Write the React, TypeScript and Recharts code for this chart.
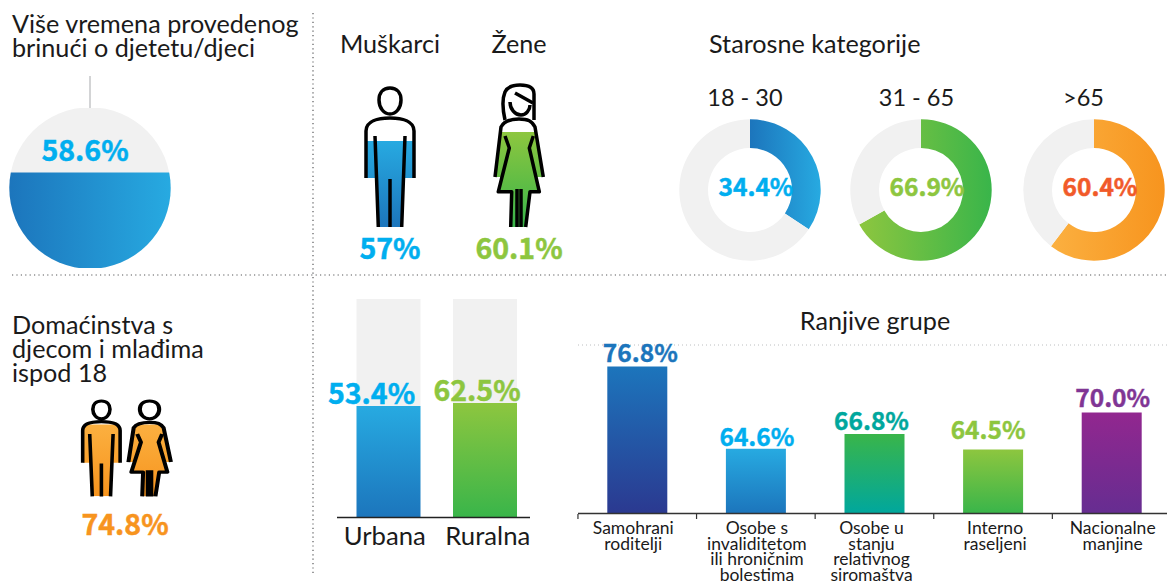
// Infographic: time spent caring for children, split by gender, age, household, area and vulnerable group.

import { Bar, BarChart, CartesianGrid, Cell, LabelList, Pie, PieChart, XAxis, YAxis } from "recharts";

const FONT = 'Lato, "Noto Sans", sans-serif';
const NUM_FONT = '"Noto Sans CJK SC", "Noto Sans", sans-serif';
const INK = "#1a1a1a";
const TRACK = "#f1f1f1";

// overall, gender, household
const overallValue = 58.6;
const genderValues = [57, 60.1];
const householdValue = 74.8;

// age groups
const ageGroups = ["18 - 30", "31 - 65", ">65"];
const ageValues = [34.4, 66.9, 60.4];

// urban / rural: labels as printed, heights as drawn on the track
const areaNames = ["Urbana", "Ruralna"];
const areaLabels = ["53.4%", "62.5%"];
const areaDrawn = [51, 52.4];

// vulnerable groups
const groupNames = [
  "Samohrani roditelji",
  "Osobe s invaliditetom ili hroničnim bolestima",
  "Osobe u stanju relativnog siromaštva",
  "Interno raseljeni",
  "Nacionalne manjine",
];
const groupLines = [
  ["Samohrani", "roditelji"],
  ["Osobe s", "invaliditetom", "ili hroničnim", "bolestima"],
  ["Osobe u", "stanju", "relativnog", "siromaštva"],
  ["Interno", "raseljeni"],
  ["Nacionalne", "manjine"],
];
const groupValues = [76.8, 64.6, 66.8, 64.5, 70.0];
const groupTicks = [55, 60, 65, 70, 75, 80];

const areaData = areaNames.map((name, i) => ({
  name,
  drawn: areaDrawn[i],
  rest: 100 - areaDrawn[i],
  label: areaLabels[i],
}));
const groupData = groupNames.map((name, i) => ({ name, value: groupValues[i] }));

const AREA_COLORS = ["#00aeef", "#8dc63f"];
const AREA_FILLS = ["url(#blueV)", "url(#greenV)"];
const AREA_NUDGE = [-17, -8];
const AGE_FILLS = ["url(#blueH)", "url(#greenH)", "url(#orangeH)"];
const AGE_COLORS = ["#00aeef", "#8dc63f", "#f15a29"];
const AGE_CENTERS = [750, 921, 1094];
const GROUP_COLORS = ["#1c75bc", "#00aeef", "#00a79d", "#8dc63f", "#803594"];
const GROUP_FILLS = ["url(#navyV)", "url(#blueV)", "url(#tealV)", "url(#greenV)", "url(#purpleV)"];
const GROUP_NUDGE: [number, number][] = [[3, -5], [1, -3], [-3, -4], [-5, -10], [1, -5]];
const GROUP_TICK_NUDGE = [-4, 1, -3, 2, 1];
const GROUP_BAND = 118.7;

const MAN_CLIP =
  "M6 109 L6 62 C6 52 18 49 30 49 C42 49 54 52 54 62 L54 109 L44 109 L41.7 158 L18.3 158 L16 109 Z";
const WOMAN_CLIP =
  "M11 56 C14 52 20 50 29 50 C38 50 42 52 45 56 L53.3 108 L45 108 L49.3 122.7 L40 122.7 L35.7 158 L20.7 158 L21.7 122.7 L8.3 122.7 L13 108 L5 108 Z";

function Gradient({ id, from, to, horizontal }: { id: string; from: string; to: string; horizontal?: boolean }) {
  return (
    <linearGradient id={id} x1="0" y1="0" x2={horizontal ? "1" : "0"} y2={horizontal ? "0" : "1"}>
      <stop offset="0" stopColor={from} />
      <stop offset="1" stopColor={to} />
    </linearGradient>
  );
}

function SharedDefs() {
  return (
    <svg width={0} height={0} style={{ position: "absolute" }}>
      <defs>
        <Gradient id="blueH" from="#1c75bc" to="#27aae1" horizontal />
        <Gradient id="greenH" from="#8dc63f" to="#39b54a" horizontal />
        <Gradient id="orangeH" from="#fbb040" to="#f7941e" horizontal />
        <Gradient id="blueV" from="#27aae1" to="#1c75bc" />
        <Gradient id="greenV" from="#8dc63f" to="#39b54a" />
        <Gradient id="orangeV" from="#fbb040" to="#f7941e" />
        <Gradient id="navyV" from="#1c75bc" to="#2b3990" />
        <Gradient id="tealV" from="#39b54a" to="#00a79d" />
        <Gradient id="purpleV" from="#92278f" to="#662d91" />
      </defs>
    </svg>
  );
}

function ManLines() {
  return (
    <>
      <path d="M30 19 C37 19 41 24 41 31 C41 39 36 45 30 45 C24 45 19 39 19 31 C19 24 23 19 30 19 Z" />
      <path d="M6 109 L6 62 C6 52 18 49 30 49 C42 49 54 52 54 62 L54 109" />
      <path d="M15 67 L18.3 158 M45 67 L41.7 158 M30 110 L30 158" />
    </>
  );
}

function WomanLines({ hair }: { hair: boolean }) {
  return (
    <>
      {hair ? (
        <>
          <path d="M15 51 C13 42 12 30 15 23 C18 17 24 16 30 16 C38 16 44 18 44 25 L44 51" />
          <path d="M20 33 C20 40 25 46 31 46 C36 46 40 41 40 36 M25 24 L43 34" />
        </>
      ) : (
        <path d="M29 19 C36 19 40 24 40 31 C40 39 35 45 29 45 C23 45 18 39 18 31 C18 24 22 19 29 19 Z" />
      )}
      <path d="M5 108 L11 58 C14 52 20 50 29 50 C38 50 42 52 45 58 L53.3 108" />
      <path d="M15 67 L19.3 79 L8.3 122.7 L21.7 122.7 L20.7 158 M43.3 67 L39.3 79 L49.3 122.7 L40 122.7 L35.7 158 M27 120 L27 158 M31 120 L31 158" />
    </>
  );
}

interface PersonProps {
  left: number;
  top: number;
  scaleX?: number;
  scaleY?: number;
  kind: "man" | "woman";
  value: number;
  fill: string;
  plotTop: number;
  hair?: boolean;
  strokeWidth?: number;
}

// Bar clipped to a body silhouette, with the icon lines on top
function PersonBar({ left, top, scaleX = 1, scaleY = 1, kind, value, fill, plotTop, hair = false, strokeWidth = 3.5 }: PersonProps) {
  const clip = kind === "man" ? MAN_CLIP : WOMAN_CLIP;
  return (
    <div
      style={{
        position: "absolute",
        left,
        top,
        width: 60,
        height: 160,
        transform: `scale(${scaleX}, ${scaleY})`,
        transformOrigin: "0 0",
      }}
    >
      <div style={{ position: "absolute", left: 0, top: 0, width: 60, height: 158, clipPath: `path('${clip}')` }}>
        <BarChart
          width={60}
          height={158}
          data={[{ name: kind, value }]}
          margin={{ top: plotTop, right: 0, bottom: 0, left: 0 }}
          barCategoryGap={0}
        >
          <XAxis dataKey="name" hide />
          <YAxis hide domain={[0, 100]} />
          <Bar dataKey="value" fill={fill} isAnimationActive={false} />
        </BarChart>
      </div>
      <svg width={60} height={160} style={{ position: "absolute", left: 0, top: 0 }}>
        <g fill="none" stroke="#000" strokeWidth={strokeWidth} strokeLinejoin="round">
          {kind === "man" ? <ManLines /> : <WomanLines hair={hair} />}
        </g>
      </svg>
    </div>
  );
}

function Donut({ index }: { index: number }) {
  const size = 146;
  const value = ageValues[index];
  const data = [
    { name: ageGroups[index], value },
    { name: "ostalo", value: 100 - value },
  ];
  return (
    <div style={{ position: "absolute", left: AGE_CENTERS[index] - size / 2, top: 190 - size / 2 }}>
      <PieChart width={size} height={size} margin={{ top: 0, right: 0, bottom: 0, left: 0 }}>
        <Pie
          data={data}
          dataKey="value"
          cx="50%"
          cy="50%"
          innerRadius={42}
          outerRadius={70.7}
          startAngle={90}
          endAngle={-270}
          stroke="none"
          isAnimationActive={false}
        >
          <Cell fill={AGE_FILLS[index]} />
          <Cell fill={TRACK} />
        </Pie>
      </PieChart>
    </div>
  );
}

function AreaChartBlock() {
  // hung on the grey part of the stack: its lower edge is the top of the coloured part
  const renderLabel = (props: any) => (
    <text
      x={props.x + props.width / 2 + AREA_NUDGE[props.index]}
      y={props.y + props.height - 2}
      textAnchor="middle"
      fontFamily={NUM_FONT}
      fontWeight={700}
      fontSize={28.5}
      stroke={AREA_COLORS[props.index]}
      strokeWidth={0.5}
      fill={AREA_COLORS[props.index]}
    >
      {props.value}
    </text>
  );
  const renderTick = (props: any) => (
    <text
      x={props.x + (props.index === 0 ? -3.5 : 3)}
      y={255}
      textAnchor="middle"
      fontFamily={FONT}
      fontSize={25.7}
      fill={INK}
    >
      {props.payload.value}
    </text>
  );
  return (
    <div style={{ position: "absolute", left: 300, top: 290 }}>
      <BarChart
        width={240}
        height={270}
        data={areaData}
        margin={{ top: 9, right: 7, bottom: 0, left: 40 }}
        barCategoryGap={16.5}
      >
        <XAxis dataKey="name" axisLine={false} tickLine={false} interval={0} height={42.5} tick={renderTick} />
        <YAxis hide domain={[0, 100]} />
        <Bar dataKey="drawn" stackId="a" isAnimationActive={false}>
          {areaData.map((entry, i) => (
            <Cell key={entry.name} fill={AREA_FILLS[i]} />
          ))}
        </Bar>
        <Bar dataKey="rest" stackId="a" fill={TRACK} isAnimationActive={false}>
          <LabelList dataKey="label" content={renderLabel} />
        </Bar>
      </BarChart>
    </div>
  );
}

function GroupChart() {
  const renderLabel = (props: any) => (
    <text
      x={props.x + props.width / 2 + GROUP_NUDGE[props.index][0]}
      y={props.y + GROUP_NUDGE[props.index][1]}
      textAnchor="middle"
      fontFamily={NUM_FONT}
      fontWeight={700}
      fontSize={24.5}
      stroke={GROUP_COLORS[props.index]}
      strokeWidth={0.4}
      fill={GROUP_COLORS[props.index]}
    >
      {props.value.toFixed(1)}%
    </text>
  );
  const renderTick = (props: any) => {
    const lines = groupLines[props.index];
    return (
      <g>
        <line x1={props.x - GROUP_BAND / 2} x2={props.x - GROUP_BAND / 2} y1={179} y2={184} stroke="#333" strokeWidth={1.2} />
        {lines.map((line, i) => (
          <text
            key={line}
            x={props.x + GROUP_TICK_NUDGE[props.index]}
            y={199 + i * 15.5}
            textAnchor="middle"
            fontFamily={FONT}
            fontSize={17.5}
            fill={INK}
          >
            {line}
          </text>
        ))}
      </g>
    );
  };
  return (
    <div style={{ position: "absolute", left: 560, top: 335 }}>
      <BarChart
        width={611}
        height={247}
        data={groupData}
        margin={{ top: 10, right: 0, bottom: 0, left: 18 }}
        barCategoryGap={29.3}
      >
        <CartesianGrid vertical={false} stroke="#bcbec0" strokeDasharray="1 3" />
        <XAxis
          dataKey="name"
          interval={0}
          height={68.5}
          tickLine={false}
          axisLine={{ stroke: "#333", strokeWidth: 1.5 }}
          tick={renderTick}
        />
        <YAxis width={0} domain={[55, 80]} ticks={groupTicks} tick={false} axisLine={false} tickLine={false} />
        <Bar dataKey="value" isAnimationActive={false}>
          {groupData.map((entry, i) => (
            <Cell key={entry.name} fill={GROUP_FILLS[i]} />
          ))}
          <LabelList dataKey="value" content={renderLabel} />
        </Bar>
      </BarChart>
    </div>
  );
}

function Heading({ x, y, lines, size = 25.2, anchor = "start", gap = 24 }: { x: number; y: number; lines: string[]; size?: number; anchor?: string; gap?: number }) {
  return (
    <>
      {lines.map((line, i) => (
        <text key={line} x={x} y={y + i * gap} fontFamily={FONT} fontSize={size} fill={INK} textAnchor={anchor as any}>
          {line}
        </text>
      ))}
    </>
  );
}

function Percent({ x, y, text, color, size = 28.5 }: { x: number; y: number; text: string; color: string; size?: number }) {
  return (
    <text x={x} y={y} fontFamily={NUM_FONT} fontWeight={700} fontSize={size} fill={color} stroke={color} strokeWidth={0.5} textAnchor="middle">
      {text}
    </text>
  );
}

export default function App() {
  return (
    <div style={{ position: "absolute", left: 0, top: 0, width: 1167, height: 583, overflow: "hidden", background: "#fff" }}>
      <SharedDefs />

      {/* overall: bar clipped to a circle */}
      <div
        style={{
          position: "absolute",
          left: 9,
          top: 108,
          width: 162,
          height: 160,
          background: TRACK,
          clipPath: "circle(80.7px at 81px 80px)",
        }}
      >
        <BarChart
          width={162}
          height={160}
          data={[{ name: "ukupno", value: overallValue }]}
          margin={{ top: 0, right: 0, bottom: 0, left: 0 }}
          barCategoryGap={0}
        >
          <XAxis dataKey="name" hide />
          <YAxis hide domain={[0, 98.3]} />
          <Bar dataKey="value" fill="url(#blueH)" isAnimationActive={false} />
        </BarChart>
      </div>

      <PersonBar left={360} top={69} kind="man" value={genderValues[0]} fill="url(#blueV)" plotTop={7} />
      <PersonBar left={490} top={69} kind="woman" value={genderValues[1]} fill="url(#greenV)" plotTop={0} hair />
      <PersonBar left={77.6} top={387.6} scaleX={0.78} scaleY={0.686} kind="man" value={householdValue} fill="url(#orangeV)" plotTop={18} strokeWidth={4.6} />
      <PersonBar left={123.5} top={387.6} scaleX={0.88} scaleY={0.686} kind="woman" value={householdValue} fill="url(#orangeV)" plotTop={18} strokeWidth={4.6} />

      {ageGroups.map((group, i) => (
        <Donut key={group} index={i} />
      ))}

      <AreaChartBlock />
      <GroupChart />

      {/* text and rules over the charts */}
      <svg width={1167} height={583} style={{ position: "absolute", left: 0, top: 0, pointerEvents: "none" }}>
        <line x1={313} x2={313} y1={13} y2={573} stroke="#58595b" strokeWidth={1.2} strokeDasharray="1.2 3.2" />
        <line x1={12} x2={1167} y1={275} y2={275} stroke="#58595b" strokeWidth={1.2} strokeDasharray="1.2 3.2" />
        <line x1={90} x2={90} y1={76} y2={108} stroke="#a7a9ac" strokeWidth={1} />
        <line x1={337} x2={530} y1={517.5} y2={517.5} stroke="#222" strokeWidth={1.5} />

        <Heading x={12} y={33} lines={["Više vremena provedenog", "brinući o djetetu/djeci"]} />
        <Heading x={390} y={53} lines={["Muškarci"]} anchor="middle" />
        <Heading x={519} y={53} lines={["Žene"]} anchor="middle" />
        <Heading x={709} y={53} lines={["Starosne kategorije"]} />
        <Heading x={745} y={106} lines={[ageGroups[0]]} anchor="middle" size={23.5} />
        <Heading x={916.5} y={106} lines={[ageGroups[1]]} anchor="middle" size={23.5} />
        <Heading x={1083.5} y={106} lines={[ageGroups[2]]} anchor="middle" size={23.5} />
        <Heading x={12} y={334} lines={["Domaćinstva s", "djecom i mlađima", "ispod 18"]} />
        <Heading x={875} y={330} lines={["Ranjive grupe"]} anchor="middle" />

        <Percent x={85} y={161} text={`${overallValue}%`} color="#00aeef" />
        <Percent x={390} y={259} text={`${genderValues[0]}%`} color="#00aeef" />
        <Percent x={519} y={259} text={`${genderValues[1]}%`} color="#8dc63f" />
        <Percent x={125} y={535} text={`${householdValue}%`} color="#f7941e" />
        {ageValues.map((value, i) => (
          <Percent key={value} x={[756, 927, 1100][i]} y={196} text={`${value}%`} color={AGE_COLORS[i]} size={24.5} />
        ))}
      </svg>
    </div>
  );
}
